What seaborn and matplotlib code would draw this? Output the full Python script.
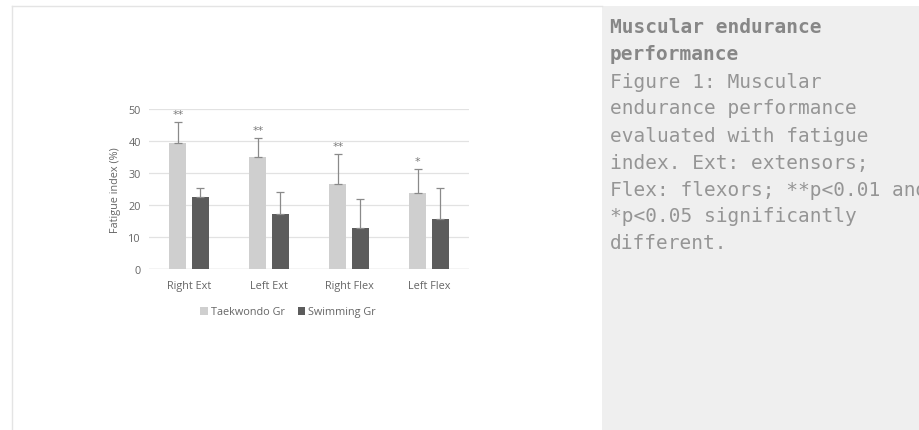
import pandas as pd
import matplotlib.pyplot as plt
import seaborn as sns
from matplotlib.patches import Rectangle
from matplotlib.lines import Line2D

# data
muscles = ['Right Ext', 'Left Ext', 'Right Flex', 'Left Flex']
taekwondo = [39.4, 35.1, 26.7, 23.8]
taekwondo_sd = [6.4, 5.8, 9.1, 7.5]
swimming = [22.6, 17.1, 12.9, 15.5]
swimming_sd = [2.8, 7.1, 9.0, 9.9]
stars = ['**', '**', '**', '*']
groups = ['Taekwondo Gr', 'Swimming Gr']

df = pd.DataFrame({
    'muscle': muscles * 2,
    'group': [groups[0]] * 4 + [groups[1]] * 4,
    'value': taekwondo + swimming,
})

W, H = 919, 431
fig = plt.figure(figsize=(W / 100, H / 100), dpi=100)
fig.patch.set_facecolor('white')

# caption panel + page frame
fig.add_artist(Rectangle((602 / W, 0), 1 - 602 / W, 1 - 7 / H,
                         transform=fig.transFigure, color='#efefef', lw=0))
fig.add_artist(Line2D([12 / W, 12 / W], [0, 1 - 7 / H], transform=fig.transFigure,
                      color='#e4e4e4', lw=1))
fig.add_artist(Line2D([12 / W, 602 / W], [1 - 7 / H, 1 - 7 / H], transform=fig.transFigure,
                      color='#e4e4e4', lw=1))

ax = fig.add_axes([149 / W, 1 - 270 / H, 320 / W, 160 / H])
sns.barplot(data=df, x='muscle', y='value', hue='group', order=muscles, hue_order=groups,
            palette=['#cfcfcf', '#5c5c5c'], width=0.56, gap=0.24, saturation=1,
            errorbar=None, ax=ax, zorder=2)

for cont, sd in zip(ax.containers, [taekwondo_sd, swimming_sd]):
    xs = [b.get_x() + b.get_width() / 2 for b in cont]
    ys = [b.get_height() for b in cont]
    ax.errorbar(xs, ys, yerr=[[0] * len(sd), sd], fmt='none', ecolor='#8a8a8a',
                elinewidth=0.9, capsize=3, capthick=0.9, zorder=3)

tk = ax.containers[0]
for b, sd, s in zip(tk, taekwondo_sd, stars):
    ax.text(b.get_x() + b.get_width() / 2, b.get_height() + sd + 2.6, s,
            ha='center', va='center', fontsize=8, color='#7a7a7a')

ax.set_ylim(0, 50)
ax.set_xlim(-0.5, 3.5)
ax.set_yticks([0, 10, 20, 30, 40, 50])
ax.yaxis.grid(True, color='#e2e2e2', lw=0.9, zorder=0)
ax.set_axisbelow(True)
for sp in ax.spines.values():
    sp.set_visible(False)
ax.axhline(0, color='#dcdcdc', lw=1, zorder=1)
ax.tick_params(length=0, labelsize=7.8, labelcolor='#666666', pad=6)
for lab in ax.get_xticklabels() + ax.get_yticklabels():
    lab.set_family('Open Sans')
ax.tick_params(axis='x', pad=8)
ax.set_xlabel('')
ax.set_ylabel('Fatigue index (%)', fontsize=7.8, color='#666666', family='Open Sans', labelpad=5)

handles, labels = ax.get_legend_handles_labels()
ax.legend(handles, labels, loc='center', bbox_to_anchor=((288 - 149) / 320, (270 - 313) / 160),
          ncol=2, frameon=False, handlelength=0.7, handleheight=0.7, handletextpad=0.3,
          columnspacing=1.2, prop={'family': 'Open Sans', 'size': 7.8}, labelcolor='#666666')

# caption text
lines = [
    ('Muscular endurance', True),
    ('performance', True),
    ('Figure 1: Muscular', False),
    ('endurance performance', False),
    ('evaluated with fatigue', False),
    ('index. Ext: extensors;', False),
    ('Flex: flexors; **p<0.01 and', False),
    ('*p<0.05 significantly', False),
    ('different.', False),
]
for i, (txt, bold) in enumerate(lines):
    fig.text(610 / W, 1 - (28 + 27 * i) / H, txt, family='DejaVu Sans Mono', fontsize=14,
             fontweight='bold' if bold else 'normal', color='#878787' if bold else '#959595',
             va='center', ha='left')

fig.savefig('out.png', dpi=100)
